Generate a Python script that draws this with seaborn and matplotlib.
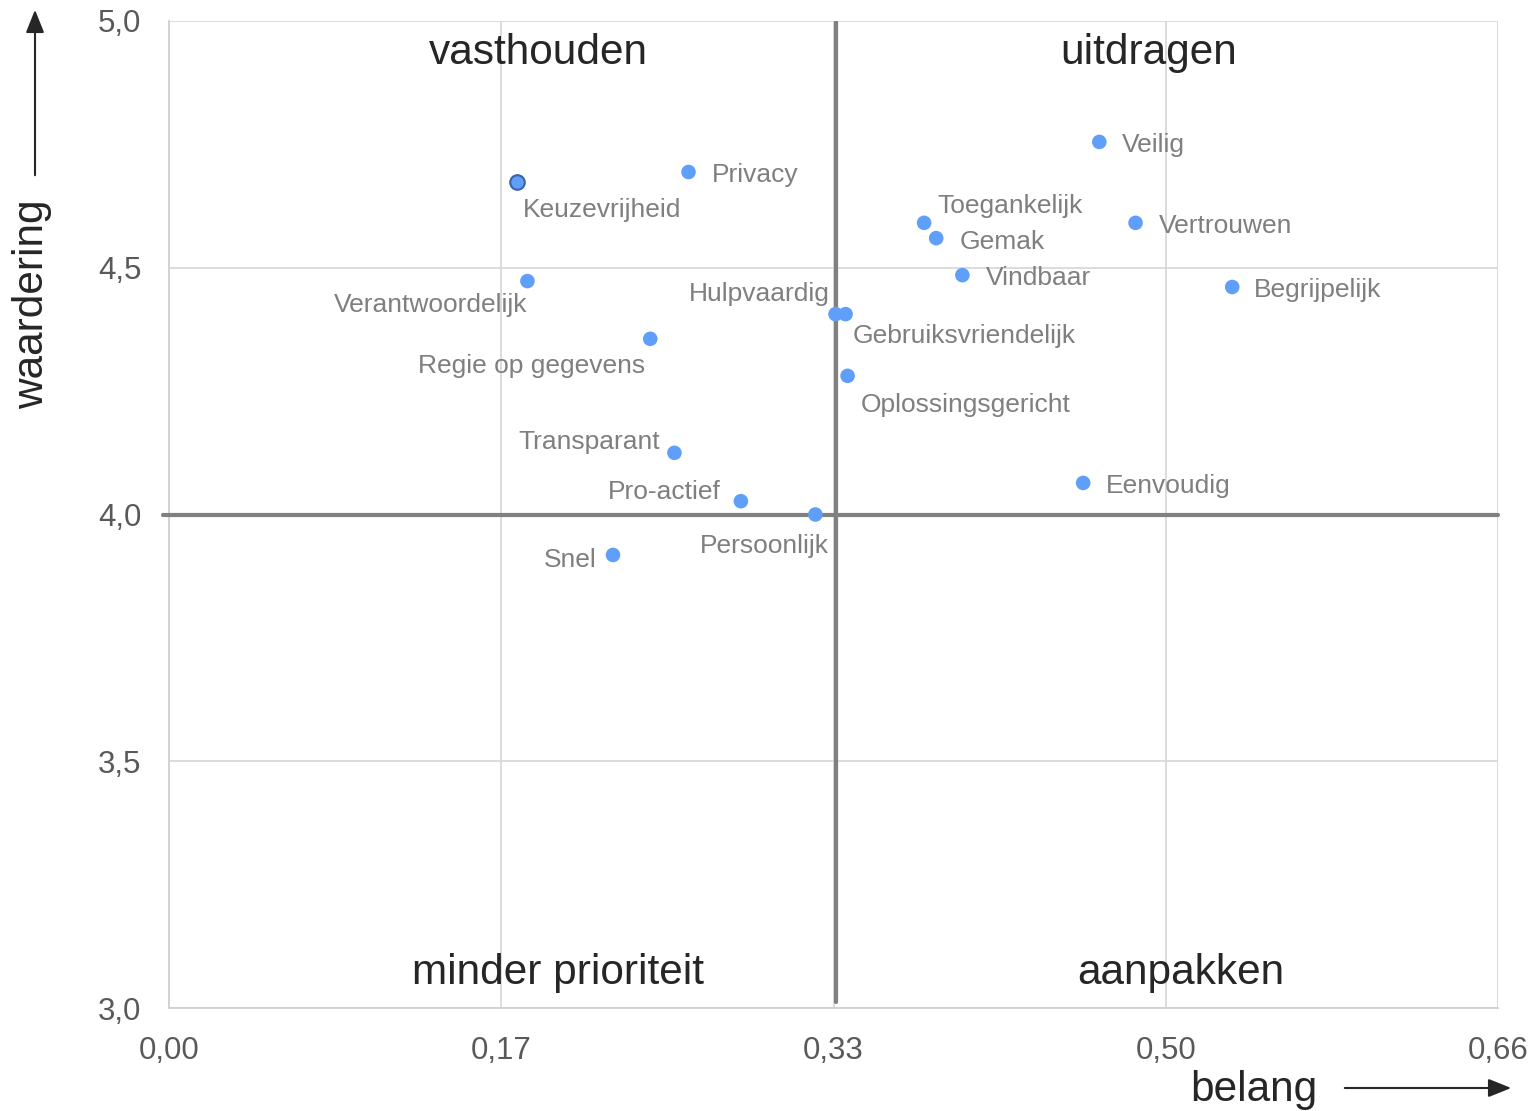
import matplotlib
matplotlib.use("Agg")
import matplotlib.pyplot as plt
import seaborn as sns
import pandas as pd
from matplotlib.ticker import FixedLocator, FixedFormatter

# ---- data ----
aspecten = ["Keuzevrijheid", "Privacy", "Verantwoordelijk", "Regie op gegevens",
            "Transparant", "Pro-actief", "Persoonlijk", "Snel", "Hulpvaardig",
            "Gebruiksvriendelijk", "Oplossingsgericht", "Toegankelijk", "Gemak",
            "Vindbaar", "Veilig", "Vertrouwen", "Begrijpelijk", "Eenvoudig"]
belang = [0.173, 0.258, 0.178, 0.239, 0.251, 0.284, 0.321, 0.2205, 0.331,
          0.336, 0.337, 0.375, 0.381, 0.394, 0.462, 0.480, 0.528, 0.454]
waardering = [4.674, 4.694, 4.473, 4.356, 4.125, 4.027, 4.0, 3.918, 4.406,
              4.406, 4.281, 4.591, 4.560, 4.485, 4.755, 4.591, 4.461, 4.064]
x_ticks = [0.0, 0.165, 0.33, 0.495, 0.66]
x_tick_labels = ["0,00", "0,17", "0,33", "0,50", "0,66"]
y_ticks = [3.0, 3.5, 4.0, 4.5, 5.0]
y_tick_labels = ["3,0", "3,5", "4,0", "4,5", "5,0"]
grens_belang = 0.331
grens_waardering = 4.0
kwadranten = ["vasthouden", "uitdragen", "minder prioriteit", "aanpakken"]

# label placement (offset in pixels, alignment)
label_pos = {
    "Keuzevrijheid": (6, -28, "left"),
    "Privacy": (23, -3, "left"),
    "Verantwoordelijk": (0, -24, "right"),
    "Regie op gegevens": (-5, -27, "right"),
    "Transparant": (-14, 11, "right"),
    "Pro-actief": (-20, 9, "right"),
    "Persoonlijk": (13, -32, "right"),
    "Snel": (-16, -5, "right"),
    "Hulpvaardig": (-6, 20, "right"),
    "Gebruiksvriendelijk": (7, -22, "left"),
    "Oplossingsgericht": (13, -29, "left"),
    "Toegankelijk": (13, 17, "left"),
    "Gemak": (23, -4, "left"),
    "Vindbaar": (24, -3, "left"),
    "Veilig": (23, -3, "left"),
    "Vertrouwen": (23, -3, "left"),
    "Begrijpelijk": (22, -3, "left"),
    "Eenvoudig": (23, -3, "left"),
}

df = pd.DataFrame({"aspect": aspecten, "belang": belang, "waardering": waardering})

sns.set_theme(style="white")
plt.rcParams["font.family"] = ["Liberation Sans", "DejaVu Sans"]

W, H = 1534, 1111
fig = plt.figure(figsize=(W / 100, H / 100), dpi=100)
ax = fig.add_axes([169 / W, 1 - 1008 / H, (1498 - 169) / W, (1008 - 21) / H])

point_color = "#5f9ef9"
sns.scatterplot(data=df, x="belang", y="waardering", ax=ax, s=110,
                color=point_color, edgecolor="none", zorder=5, legend=False)
# highlighted point with darker edge
sel = df[df["aspect"] == "Keuzevrijheid"]
sns.scatterplot(data=sel, x="belang", y="waardering", ax=ax, s=110,
                color=point_color, edgecolor="#3a63a8", linewidth=1.5, zorder=6, legend=False)

ax.set_xlim(0, 0.66)
ax.set_ylim(3.0, 5.0)
ax.xaxis.set_major_locator(FixedLocator(x_ticks))
ax.xaxis.set_major_formatter(FixedFormatter(x_tick_labels))
ax.yaxis.set_major_locator(FixedLocator(y_ticks))
ax.yaxis.set_major_formatter(FixedFormatter(y_tick_labels))
ax.tick_params(axis="x", length=0, pad=20, labelsize=22.5, labelcolor="#595959")
ax.tick_params(axis="y", length=0, pad=20, labelsize=22.5, labelcolor="#595959")
ax.grid(True, color="#d9d9d9", linewidth=1.3, zorder=0)
ax.set_axisbelow(True)
for side in ["top", "right"]:
    ax.spines[side].set_visible(False)
for side in ["left", "bottom"]:
    ax.spines[side].set_color("#d0d0d0")
    ax.spines[side].set_linewidth(1.3)
ax.set_xlabel("")
ax.set_ylabel("")

# quadrant lines
ax.axvline(grens_belang, ymin=0.006, ymax=1.0, color="#808080", linewidth=3, zorder=3)
ax.axhline(grens_waardering, xmin=-0.0045, xmax=1.0, color="#808080", linewidth=3,
           zorder=3, clip_on=False)

# point labels
for name, bx, wy in zip(aspecten, belang, waardering):
    dx, dy, ha = label_pos[name]
    ax.annotate(name, (bx, wy), xytext=(dx, dy), textcoords="offset pixels",
                ha=ha, va="center", fontsize=19, color="#7f7f7f", zorder=7)

# quadrant labels
quad_pos = [(0.2777, 0.9676), (0.7374, 0.9676), (0.2927, 0.0355), (0.7615, 0.0355)]
for lab, (qx, qy) in zip(kwadranten, quad_pos):
    ax.text(qx, qy, lab, transform=ax.transAxes, ha="center", va="center",
            fontsize=30.5, color="#262626")

# axis labels with arrows (figure pixel coords)
fig.text(32 / W, 1 - 304 / H, "waardering", rotation=90, ha="center", va="center",
         fontsize=30.5, color="#262626")
fig.text(1254 / W, 1 - 1090 / H, "belang", ha="center", va="center",
         fontsize=30.5, color="#262626")
fig.add_artist(matplotlib.patches.FancyArrowPatch(
    (35 / W, 1 - 178 / H), (35 / W, 1 - 7 / H), transform=fig.transFigure,
    arrowstyle="-|>,head_length=7,head_width=2.8", mutation_scale=2,
    color="#262626", linewidth=1.5))
fig.add_artist(matplotlib.patches.FancyArrowPatch(
    (1342 / W, 1 - 1088 / H), (1514 / W, 1 - 1088 / H), transform=fig.transFigure,
    arrowstyle="-|>,head_length=7,head_width=2.8", mutation_scale=2,
    color="#262626", linewidth=1.5))

fig.savefig("out.png", dpi=100)
